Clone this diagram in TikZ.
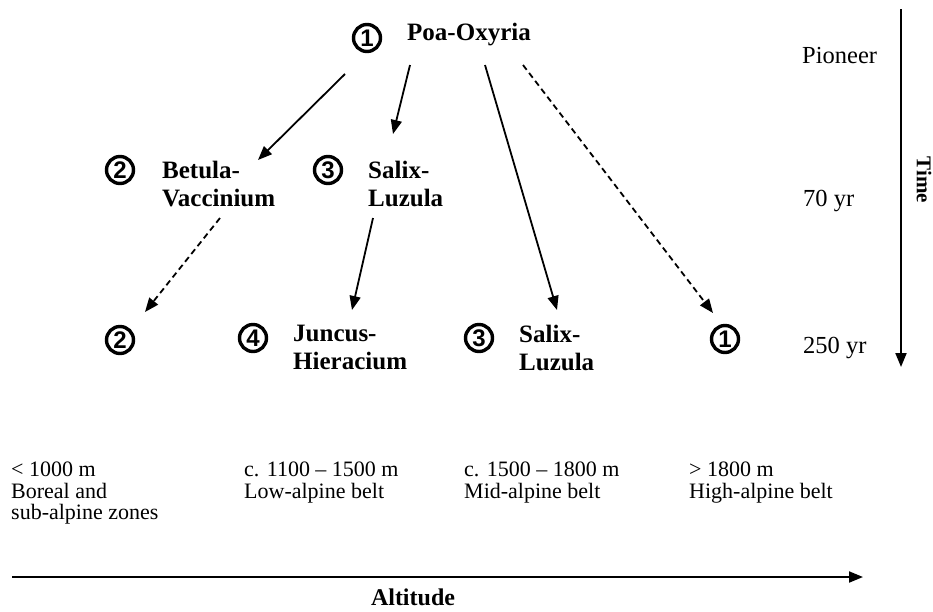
\documentclass[tikz,border=0pt]{standalone}
\usepackage{fontspec}
\setmainfont{Liberation Serif}
\newfontfamily\circfont{Liberation Sans}
\usetikzlibrary{arrows.meta}
\begin{document}
\begin{tikzpicture}[x=1pt,y=-1pt,
 num/.style={circle, draw, line width=3.4pt, minimum size=27pt, inner sep=0pt, font=\circfont\bfseries\fontsize{24}{24}\selectfont},
 spec/.style={anchor=north west, inner sep=0pt, align=left, font=\bfseries\fontsize{25}{28}\selectfont},
 lab/.style={anchor=base west, inner sep=0pt, font=\fontsize{24.5}{26}\selectfont},
 belt/.style={anchor=north west, inner sep=0pt, align=left, font=\fontsize{22}{21.5}\selectfont},
 arr/.style={-{Triangle[length=14pt,width=11pt]}, line width=1.8pt},
 darr/.style={arr, dash pattern=on 6pt off 4pt},
 axis/.style={-{Triangle[length=14pt,width=11pt]}, line width=2pt}]
\useasboundingbox (0,0) rectangle (933,611);

% species nodes
\node[num] (n1) at (367,38) {1};
\node[anchor=base west, inner sep=0pt, font=\bfseries\fontsize{25}{28}\selectfont] (poa) at (407,40) {Poa-Oxyria};
\node[num] (n2a) at (120,170) {2};
\node[spec] (bet) at (162,161) {Betula-\\Vaccinium};
\node[num] (n3a) at (328,170) {3};
\node[spec] (salA) at (368,161) {Salix-\\Luzula};
\node[num] (n2b) at (120,340) {2};
\node[num] (n4) at (253,338) {4};
\node[spec] (jun) at (293,325) {Juncus-\\Hieracium};
\node[num] (n3b) at (479,338) {3};
\node[spec] (salB) at (519,325) {Salix-\\Luzula};
\node[num] (n1b) at (725,339) {1};

% connectors
\draw[arr] ([shift={(-22,36)}]n1.center) -- ([shift={(96,-1)}]bet.north west);
\draw[arr] ([shift={(3,25)}]poa.base west) -- ([shift={(25,-27)}]salA.north west);
\draw[arr] ([shift={(78,25)}]poa.base west) -- ([shift={(38,-15)}]salB.north west);
\draw[darr] ([shift={(116,25)}]poa.base west) -- ([shift={(-12,-26)}]n1b.center);
\draw[darr] ([shift={(58,57)}]bet.north west) -- ([shift={(25,-28)}]n2b.center);
\draw[arr] ([shift={(5,57)}]salA.north west) -- ([shift={(59,-15)}]jun.north west);

% time axis
\node[lab] (pio) at (802,63) {Pioneer};
\node[lab] (t70) at (803,206) {70 yr};
\node[lab] (t250) at (803,353) {250 yr};
\coordinate (tT) at (901,9);
\coordinate (tB) at (901,367);
\draw[axis] (tT) -- (tB);
\node[rotate=-90, inner sep=0pt, font=\bfseries\fontsize{21}{21}\selectfont] (time) at (924,180) {Time};

% altitude belts
\node[belt] (b1) at (11,462) {< 1000 m\\Boreal and\\sub-alpine zones};
\node[belt] (b2) at (244,462) {c. 1100 -- 1500 m\\Low-alpine belt};
\node[belt] (b3) at (464,462) {c. 1500 -- 1800 m\\Mid-alpine belt};
\node[belt] (b4) at (689,462) {> 1800 m\\High-alpine belt};

% altitude axis
\coordinate (aL) at (12,577);
\coordinate (aR) at (863,577);
\draw[axis] (aL) -- (aR);
\node[anchor=base, inner sep=0pt, font=\bfseries\fontsize{24}{24}\selectfont] (alt) at (413,605) {Altitude};
\end{tikzpicture}
\end{document}
